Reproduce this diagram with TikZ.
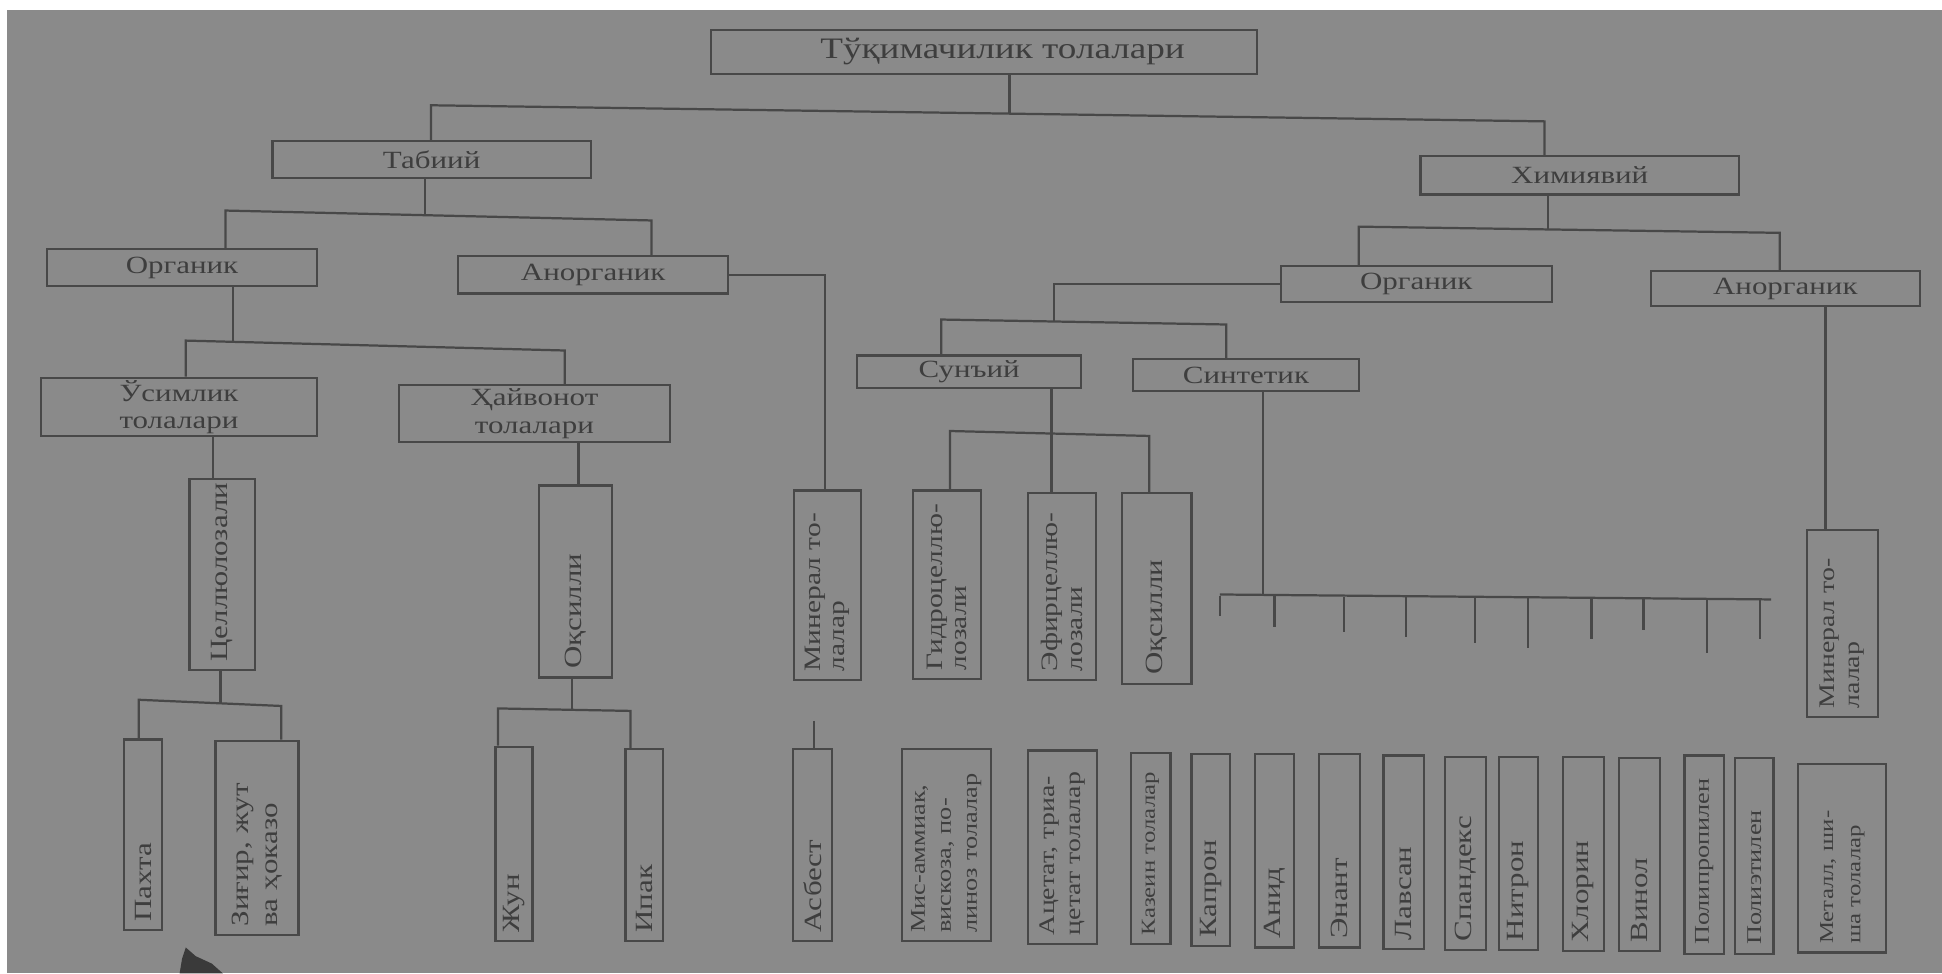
\documentclass[tikz,border=0pt]{standalone}
\usepackage{fontspec}
\setmainfont{Liberation Serif}[FakeStretch=1.25]
\definecolor{bg}{HTML}{8A8A8A}
\definecolor{lc}{HTML}{484848}
\definecolor{tc}{HTML}{3E3E3E}
\tikzset{
  box/.style={draw=lc, line width=1.8pt, text=tc, inner sep=2pt, align=center, rectangle},
  vbox/.style={box, rotate=90, align=left, inner xsep=7pt},
  conn/.style={draw=lc, line width=1.8pt},
}
% name, x1, x2, y1, y2, font size, baselineskip, text
\newcommand\hbx[8]{%
  \pgfmathsetmacro\bxw{#3-#2}%
  \pgfmathsetmacro\bxh{#5-#4}%
  \pgfmathsetmacro\bxcx{(#2+#3)/2}%
  \pgfmathsetmacro\bxcy{(#4+#5)/2}%
  \node[box, minimum width=\bxw pt, minimum height=\bxh pt, font=\fontsize{#6}{#7}\selectfont] (#1) at (\bxcx,\bxcy) {#8};}
\newcommand\vbx[8]{%
  \pgfmathsetmacro\bxw{#3-#2}%
  \pgfmathsetmacro\bxh{#5-#4}%
  \pgfmathsetmacro\bxt{#5-#4-14}%
  \pgfmathsetmacro\bxcx{(#2+#3)/2}%
  \pgfmathsetmacro\bxcy{(#4+#5)/2}%
  \node[vbox, minimum width=\bxh pt, minimum height=\bxw pt, text width=\bxt pt, font=\fontsize{#6}{#7}\selectfont] (#1) at (\bxcx,\bxcy) {#8};}
\begin{document}
\begin{tikzpicture}[x=1pt,y=-1pt]
\useasboundingbox (0,0) rectangle (1568,786);
\fill[white] (0,0) rectangle (1568,786);
\fill[bg] (6,8) rectangle (1568,786);
% scan smudge
\fill[lc!80!black] (150,765) -- (158,772) -- (171,778) -- (180,786) -- (145,786) -- (147,774) -- cycle;

% horizontal boxes
\hbx{T0}{574}{1015}{24}{60}{24}{26}{\hspace*{30pt}Тўқимачилик толалари}
\hbx{Tab}{220}{477}{114}{144}{20}{22}{Табиий}
\hbx{Him}{1147}{1404}{126}{157}{20}{22}{Химиявий}
\hbx{OrgL}{38}{256}{201}{231}{20}{22}{Органик}
\hbx{AnorgL}{370}{588}{207}{237}{20}{22}{Анорганик}
\hbx{OrgR}{1034}{1253}{215}{244}{20}{22}{Органик}
\hbx{AnorgR}{1333}{1550}{219}{247}{20}{22}{Анорганик}
\hbx{Usim}{33}{256}{305}{352}{20}{22}{Ўсимлик\\толалари}
\hbx{Hayv}{322}{541}{311}{357}{20}{22}{Ҳайвонот\\толалари}
\hbx{Sun}{692}{873}{287}{313}{20}{22}{Сунъий}
\hbx{Sint}{915}{1097}{290}{316}{20}{22}{Синтетик}

% vertical boxes
\vbx{Cell}{153}{206}{387}{541}{20}{22}{Целлюлозали}
\vbx{Oqs1}{435}{494}{392}{547}{20}{22}{Оқсилли}
\vbx{Pakhta}{100}{131}{597}{751}{20}{22}{Пахта}
\vbx{Zigir}{174}{241}{598}{755}{20}{23}{Зиғир, жут\\ва ҳоказо}
\vbx{Jun}{400}{430}{603}{760}{20}{22}{Жун}
\vbx{Ipak}{505}{535}{605}{760}{20}{22}{Ипак}
\vbx{MinL}{641}{695}{396}{549}{19}{20}{Минерал то-\\лалар}
\vbx{Asbest}{640}{672}{605}{760}{20}{22}{Асбест}
\vbx{Gidro}{737}{792}{396}{548}{19}{20}{Гидроцеллю-\\лозали}
\vbx{Efir}{830}{885}{398}{549}{19}{20}{Эфирцеллю-\\лозали}
\vbx{Oqs2}{906}{962}{398}{552}{20}{22}{Оқсилли}
\vbx{Mis}{728}{800}{605}{760}{17}{21}{Мис-аммиак,\\вискоза, по-\\линоз толалар}
\vbx{Acet}{830}{886}{606}{762}{18}{21}{Ацетат, триа-\\цетат толалар}
\vbx{Kazein}{913}{945}{608}{762}{16}{18}{Казеин толалар}
\vbx{Kapron}{962}{993}{609}{764}{20}{22}{Капрон}
\vbx{Anid}{1013}{1045}{609}{765}{20}{22}{Анид}
\vbx{Enant}{1065}{1098}{609}{765}{20}{22}{Энант}
\vbx{Lavsan}{1117}{1150}{610}{766}{20}{22}{Лавсан}
\vbx{Spandeks}{1167}{1200}{611}{767}{20}{22}{Спандекс}
\vbx{Nitron}{1210}{1242}{611}{767}{20}{22}{Нитрон}
\vbx{Xlorin}{1262}{1295}{611}{768}{20}{22}{Хлорин}
\vbx{Vinol}{1307}{1340}{612}{768}{20}{22}{Винол}
\vbx{Polipro}{1360}{1392}{610}{770}{17}{20}{Полипропилен}
\vbx{Polietil}{1401}{1432}{612}{770}{17}{20}{Полиэтилен}
\vbx{MinR}{1459}{1516}{428}{579}{18}{20}{Минерал то-\\лалар}
\vbx{Metall}{1452}{1523}{617}{769}{16}{22}{Металл, ши-\\ша толалар}

% connectors
% G1
\coordinate (jL1) at (348,85); \coordinate (jR1) at (1247,98); \coordinate (s1) at (815,91.75);
\draw[conn] (jL1 |- Tab.north) -- (jL1) -- (jR1) -- (jR1 |- Him.north);
\draw[conn] (s1 |- T0.south) -- (s1);
% G2
\coordinate (jL2) at (182,170); \coordinate (jR2) at (526,178); \coordinate (s2) at (343,173.7);
\draw[conn] (jL2 |- OrgL.north) -- (jL2) -- (jR2) -- (jR2 |- AnorgL.north);
\draw[conn] (s2 |- Tab.south) -- (s2);
% G3
\coordinate (jL3) at (1097,183); \coordinate (jR3) at (1437,188); \coordinate (s3) at (1250,185.3);
\draw[conn] (jL3 |- OrgR.north) -- (jL3) -- (jR3) -- (jR3 |- AnorgR.north);
\draw[conn] (s3 |- Him.south) -- (s3);
% G4
\coordinate (jL4) at (150,275); \coordinate (jR4) at (456,283); \coordinate (s4) at (188,276);
\draw[conn] (jL4 |- Usim.north) -- (jL4) -- (jR4) -- (jR4 |- Hayv.north);
\draw[conn] (s4 |- OrgL.south) -- (s4);
% G5, G6
\coordinate (s5) at (172,0); \coordinate (s6) at (467,0);
\draw[conn] (s5 |- Usim.south) -- (s5 |- Cell.east);
\draw[conn] (s6 |- Hayv.south) -- (s6 |- Oqs1.east);
% G7
\coordinate (jL7) at (112,565); \coordinate (jR7) at (227,570); \coordinate (s7) at (178,567.9);
\draw[conn] (jL7 |- Pakhta.east) -- (jL7) -- (jR7) -- (jR7 |- Zigir.east);
\draw[conn] (s7 |- Cell.west) -- (s7);
% G8
\coordinate (jL8) at (402,572); \coordinate (jR8) at (509,574); \coordinate (s8) at (462,573.1);
\draw[conn] (jL8 |- Jun.east) -- (jL8) -- (jR8) -- (jR8 |- Ipak.east);
\draw[conn] (s8 |- Oqs1.west) -- (s8);
% G9, G10
\coordinate (s9) at (666,0);
\draw[conn] (AnorgL.east) -| (s9 |- MinL.east);
\coordinate (s10) at (657,582);
\draw[conn] (s10) -- (s10 |- Asbest.east);
% G11
\coordinate (j11) at (851,259.6); \coordinate (jL11) at (760,258); \coordinate (jR11) at (990,262);
\draw[conn] (OrgR.west) -| (j11);
\draw[conn] (jL11 |- Sun.north) -- (jL11) -- (jR11) -- (jR11 |- Sint.north);
% G12
\coordinate (s12) at (849,0); \coordinate (jL12) at (767,348); \coordinate (jR12) at (928,352);
\draw[conn] (s12 |- Sun.south) -- (s12 |- Efir.east);
\draw[conn] (jL12 |- Gidro.east) -- (jL12) -- (jR12) -- (jR12 |- Oqs2.east);
% G13 synthetic comb
\coordinate (s13) at (1020,481); \coordinate (cL) at (985,480); \coordinate (cR) at (1430,484);
\draw[conn] (s13 |- Sint.south) -- (s13);
\draw[conn] (cL) -- (cR);
\foreach \i/\x/\a/\l in {1/985/481/16, 2/1029/481/25, 3/1085/482/28, 4/1135/482/32, 5/1191/482/37, 6/1234/483/40, 7/1285/483/33, 8/1327/483/26, 9/1378/484/43, 10/1421/484/32}{
  \coordinate (tk\i) at (\x,\a);
  \draw[conn] (tk\i) -- ++(0,\l);
}
% G14
\coordinate (s14) at (1474,0);
\draw[conn] (s14 |- AnorgR.south) -- (s14 |- MinR.east);
\end{tikzpicture}
\end{document}
